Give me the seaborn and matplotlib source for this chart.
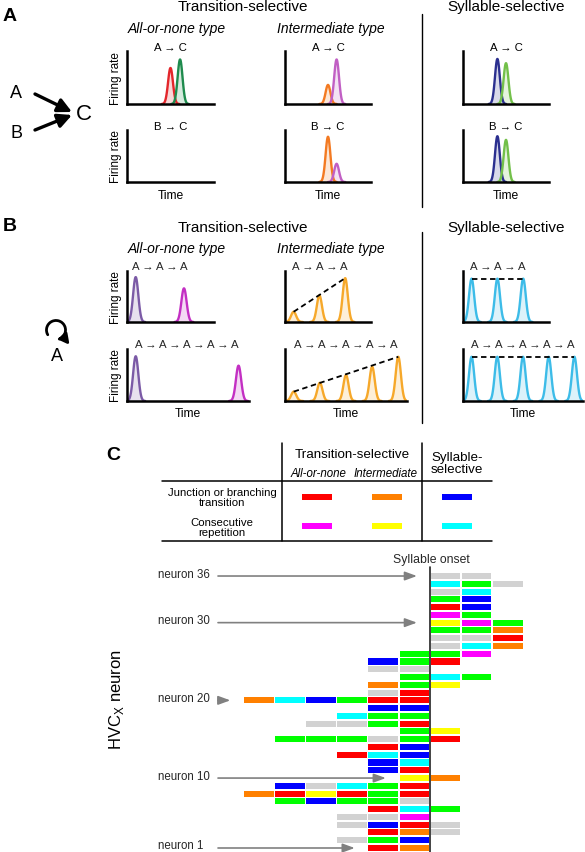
import numpy as np
import pandas as pd
import matplotlib
matplotlib.use('Agg')
import matplotlib.pyplot as plt
import seaborn as sns
from matplotlib.patches import Rectangle, FancyArrowPatch
from matplotlib.path import Path
from matplotlib.transforms import Affine2D

# ------------------------------------------------------------------ data
# Panel A : peak centres (time units), peak heights (relative), colours
A_top_title = 'A \u2192 C'
A_bot_title = 'B \u2192 C'
A_top_centers = [[5.0, 6.1], [5.0, 6.0], [4.0, 5.0]]
A_top_heights = [[0.68, 0.84], [0.36, 0.84], [0.85, 0.77]]
A_bot_centers = [[], [5.0, 6.0], [4.0, 5.0]]
A_bot_heights = [[], [0.87, 0.35], [0.88, 0.81]]
A_colors = [['#e3262b', '#1e8b4d'], ['#f37a22', '#c15fc4'], ['#2b2f8f', '#73c04a']]

# Panel B
B_top_title = 'A \u2192 A \u2192 A'
B_bot_title = 'A \u2192 A \u2192 A \u2192 A \u2192 A'
B_top_centers = [[1.0, 6.55], [1.0, 4.0, 7.0], [1.0, 4.0, 7.0]]
B_top_heights = [[0.88, 0.66], [0.20, 0.52, 0.86], [0.85, 0.85, 0.85]]
B_bot_centers = [[1.0, 12.8], [1.0, 4.0, 7.0, 10.0, 13.0], [1.0, 4.0, 7.0, 10.0, 13.0]]
B_bot_heights = [[0.86, 0.68], [0.18, 0.35, 0.50, 0.66, 0.85], [0.85, 0.85, 0.85, 0.85, 0.85]]
B_col_purple = '#7b5aa6'
B_col_magenta = '#c32fc3'
B_col_gold = '#f6a82a'
B_col_sky = '#3dbce8'

# Panel C legend table
legend_rows = ['Junction or branching\ntransition', 'Consecutive\nrepetition']
legend_cols = ['All-or-none', 'Intermediate', 'Syllable-\nselective']
legend_codes = [['R', 'O', 'B'], ['M', 'Y', 'C']]

# Panel C raster: columns are syllable positions -6..-1 (before onset) and 0..2 (after)
col_positions = [-6, -5, -4, -3, -2, -1, 0, 1, 2]
neuron_ids = list(range(36, 0, -1))
neuron_rows = [
    "......KK.",  # 36
    "......CGK",  # 35
    "......KC.",  # 34
    "......GB.",  # 33
    "......RB.",  # 32
    "......MG.",  # 31
    "......YMG",  # 30
    "......GGO",  # 29
    "......KKR",  # 28
    "......KCO",  # 27
    ".....GGM.",  # 26
    "....BGR..",  # 25
    "....KK...",  # 24
    ".....GCG.",  # 23
    "....OGY..",  # 22
    "....KR...",  # 21
    "OCBGRR...",  # 20
    "....BB...",  # 19
    "...CGG...",  # 18
    "..KKGR...",  # 17
    ".....GY..",  # 16
    ".GGGKGR..",  # 15
    "....RB...",  # 14
    "...RCB...",  # 13
    "....BC...",  # 12
    "....BR...",  # 11
    ".....YO..",  # 10
    ".BKCGR...",  # 9
    "ORYRGR...",  # 8
    ".GBGGK...",  # 7
    "....RCG..",  # 6
    "...KKM...",  # 5
    "...KBRK..",  # 4
    "....ROK..",  # 3
    "...KGB...",  # 2
    "....RO...",  # 1
]
labelled_neurons = [36, 30, 20, 10, 1]
code_colors = {'R': '#ff0000', 'O': '#ff8000', 'B': '#0000ff', 'M': '#ff00ff',
               'Y': '#ffff00', 'C': '#00ffff', 'G': '#00ff00', 'K': '#d2d2d2'}

# ------------------------------------------------------------------ figure
W, H = 585, 853
sns.set_theme(style='white')
plt.rcParams['font.family'] = ['Liberation Sans', 'DejaVu Sans']
plt.rcParams['mathtext.fontset'] = 'custom'
plt.rcParams['mathtext.rm'] = 'Liberation Sans'
fig = plt.figure(figsize=(W / 100, H / 100), dpi=100)
fig.patch.set_facecolor('white')

ov = fig.add_axes([0, 0, 1, 1])
ov.set_xlim(0, W)
ov.set_ylim(H, 0)
ov.set_axis_off()
ov.patch.set_alpha(0)


def frect(x0, y0, x1, y1):
    return [x0 / W, 1 - y1 / H, (x1 - x0) / W, (y1 - y0) / H]


def ftext(x, y, s, **kw):
    kw.setdefault('ha', 'center')
    kw.setdefault('va', 'center')
    kw.setdefault('color', 'black')
    ov.text(x, y, s, **kw)


def make_ax(x0, y0, x1, y1, xmax):
    ax = fig.add_axes(frect(x0, y0, x1, y1))
    ax.set_xlim(0, xmax)
    ax.set_ylim(0, 1)
    ax.set_xticks([])
    ax.set_yticks([])
    sns.despine(ax=ax)
    for s in ('left', 'bottom'):
        ax.spines[s].set_linewidth(1.8)
        ax.spines[s].set_color('black')
    ax.patch.set_alpha(0)
    return ax


def draw_peaks(ax, centers, heights, colors, sigma=0.28):
    for c, h, col in zip(centers, heights, colors):
        xs = np.linspace(c - 3.6 * sigma, c + 3.6 * sigma, 90)
        ys = h * np.exp(-0.5 * ((xs - c) / sigma) ** 2)
        ax.fill_between(xs, 0, ys, color=col, alpha=0.18, lw=0)
        sns.lineplot(x=xs, y=ys, ax=ax, color=col, lw=1.7, estimator=None, sort=False)


TXT = 8.2
# ---------------- Panel A
ftext(3, 16, 'A', ha='left', fontsize=14, weight='bold')
ftext(243, 7, 'Transition-selective', fontsize=11)
ftext(506, 7, 'Syllable-selective', fontsize=11)
ftext(177, 29, 'All-or-none type', fontsize=10, style='italic')
ftext(331, 29, 'Intermediate type', fontsize=10, style='italic')

cols_x = [(127, 214), (285, 371), (463, 549)]
A_rows_y = [(52, 105), (131, 183)]
for ci, (x0, x1) in enumerate(cols_x):
    for ri, (y0, y1) in enumerate(A_rows_y):
        ax = make_ax(x0, y0, x1, y1, 10)
        if ri == 0:
            draw_peaks(ax, A_top_centers[ci], A_top_heights[ci], A_colors[ci])
            title = A_top_title
        else:
            draw_peaks(ax, A_bot_centers[ci], A_bot_heights[ci], A_colors[ci])
            title = A_bot_title
        ftext((x0 + x1) / 2, y0 - 4, title, fontsize=TXT)
        if ci == 0:
            ftext(x0 - 11, (y0 + y1) / 2, 'Firing rate', fontsize=TXT + 0.3, rotation=90)
    ftext((x0 + x1) / 2, 196, 'Time', fontsize=TXT + 0.5)

# left diagram A,B -> C
ftext(16, 93, 'A', fontsize=13)
ftext(16, 133, 'B', fontsize=13)
ftext(84, 114, 'C', fontsize=16)
for (xa, ya), (xb, yb) in [((35, 95), (72, 113)), ((35, 131), (72, 116))]:
    ov.annotate('', xy=(xb, yb), xytext=(xa, ya),
                arrowprops=dict(arrowstyle='-|>,head_length=0.7,head_width=0.35', lw=2.4,
                                color='black', shrinkA=0, shrinkB=0))
ov.plot([422, 422], [15, 208], color='black', lw=1.0)

# ---------------- Panel B
ftext(3, 226, 'B', ha='left', fontsize=14, weight='bold')
ftext(243, 228, 'Transition-selective', fontsize=11)
ftext(506, 228, 'Syllable-selective', fontsize=11)
ftext(177, 249, 'All-or-none type', fontsize=10, style='italic')
ftext(331, 249, 'Intermediate type', fontsize=10, style='italic')
ov.plot([422, 422], [233, 424], color='black', lw=1.0)

B_colors_top = [[B_col_purple, B_col_magenta], [B_col_gold] * 3, [B_col_sky] * 3]
B_colors_bot = [[B_col_purple, B_col_magenta], [B_col_gold] * 5, [B_col_sky] * 5]
B_rows = [((272, 323), cols_x, 10, B_top_centers, B_top_heights, B_colors_top, B_top_title),
          ((350, 402), [(127, 249), (285, 407), (463, 583)], 14, B_bot_centers,
           B_bot_heights, B_colors_bot, B_bot_title)]
for (y0, y1), cx, xmax, cen, hei, cols, title in B_rows:
    for ci, (x0, x1) in enumerate(cx):
        ax = make_ax(x0, y0, x1, y1, xmax)
        draw_peaks(ax, cen[ci], hei[ci], cols[ci], sigma=0.3)
        if ci > 0:
            ax.plot([cen[ci][0], cen[ci][-1]], [hei[ci][0], hei[ci][-1]],
                    color='black', lw=1.3, ls=(0, (3, 2)))
        mid = (cen[ci][0] + cen[ci][-1]) / 2
        ax.text(mid, 1.0 + 5 / (y1 - y0), title, transform=ax.get_xaxis_transform(),
                ha='center', va='center', fontsize=TXT, clip_on=False)
        if ci == 0:
            ftext(x0 - 11, (y0 + y1) / 2, 'Firing rate', fontsize=TXT + 0.3, rotation=90)
        if y0 == 350:
            ftext((x0 + x1) / 2, 414, 'Time', fontsize=TXT + 0.5)

# loop symbol (repetition of A)
loop = Path.arc(150, 440)
loop = Affine2D().scale(9.5).translate(56, 331).transform_path(loop)
ov.add_patch(FancyArrowPatch(path=loop, arrowstyle='-|>,head_length=5,head_width=3.5',
                             lw=2.0, color='black', mutation_scale=1))
ftext(57, 356, 'A', fontsize=13)

# ---------------- Panel C : legend table
ftext(106, 455, 'C', ha='left', fontsize=14, weight='bold')
ov.plot([162, 492], [482, 482], color='black', lw=1.1)
ov.plot([162, 492], [542, 542], color='black', lw=1.1)
ov.plot([282, 282], [444, 542], color='black', lw=1.1)
ov.plot([422, 422], [444, 542], color='black', lw=1.1)
ftext(352, 455, 'Transition-selective', fontsize=9.6)
ftext(318, 474, legend_cols[0], fontsize=8.3, style='italic')
ftext(386, 474, legend_cols[1], fontsize=8.3, style='italic')
ftext(457, 464, legend_cols[2], fontsize=9.6, linespacing=1.05)
sw_x = [302, 372, 442]
row_y = [498, 527]
for r, label in enumerate(legend_rows):
    ftext(222, row_y[r] + 0.5, label, fontsize=8.2, linespacing=1.0)
    for c, code in enumerate(legend_codes[r]):
        ov.add_patch(Rectangle((sw_x[c], row_y[r] - 3), 30, 6, color=code_colors[code], lw=0))

# ---------------- Panel C : raster
unit = 31.1
row_px = 7.771
x_onset_px = 430
y_n1_px = 849
gx0, gx1, gy0, gy1 = 150, 585, 560, 853
axc = fig.add_axes(frect(gx0, gy0, gx1, gy1))
axc.set_xlim((gx0 - x_onset_px) / unit, (gx1 - x_onset_px) / unit)
axc.set_ylim(1 + (y_n1_px - gy1) / row_px, 1 + (y_n1_px - gy0) / row_px)
axc.set_axis_off()
axc.patch.set_alpha(0)

recs = []
for nid, row in zip(neuron_ids, neuron_rows):
    for pos, code in zip(col_positions, row):
        if code != '.':
            recs.append((nid, pos, code))
cells = pd.DataFrame(recs, columns=['neuron', 'pos', 'code'])
for code, grp in cells.groupby('code'):
    axc.barh(grp['neuron'], 0.955, left=grp['pos'] + 0.022, height=0.78,
             color=code_colors[code], lw=0)

ytop = 1 + (y_n1_px - 568) / row_px
axc.plot([0, 0], [axc.get_ylim()[0], ytop], color='#222222', lw=1.2)
axc.text(0.06, 1 + (y_n1_px - 560) / row_px, 'Syllable onset', ha='center', va='center',
         fontsize=8.8, clip_on=False)

x_label = (158 - x_onset_px) / unit
x_arrow0 = (218 - x_onset_px) / unit
for nid in labelled_neurons:
    first = cells[cells['neuron'] == nid]['pos'].min()
    axc.text(x_label, nid + 2.5 / row_px, f'neuron {nid}', ha='left', va='center',
             fontsize=8.3)
    axc.annotate('', xy=(first - 0.42, nid), xytext=(x_arrow0, nid),
                 arrowprops=dict(arrowstyle='-|>,head_length=0.6,head_width=0.22',
                                 lw=1.2, color='#808080', shrinkA=0, shrinkB=0))

ftext(117, 700, r'HVC$_\mathrm{X}$ neuron', fontsize=12, rotation=90)

fig.savefig('out.png', dpi=100, facecolor='white')
